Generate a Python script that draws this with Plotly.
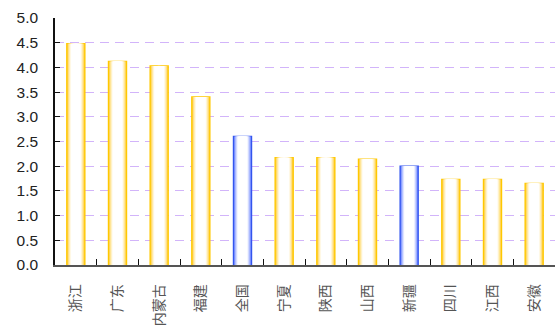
import plotly.graph_objects as go

categories = ["浙江", "广东", "内蒙古", "福建", "全国", "宁夏", "陕西", "山西", "新疆", "四川", "江西", "安徽"]
values = [4.48, 4.12, 4.03, 3.40, 2.60, 2.17, 2.17, 2.14, 2.00, 1.73, 1.73, 1.65]
kinds = ["p", "p", "p", "p", "n", "p", "p", "p", "n", "p", "p", "p"]
y_ticks = [0.0, 0.5, 1.0, 1.5, 2.0, 2.5, 3.0, 3.5, 4.0, 4.5, 5.0]

GOLD = (255, 192, 0)
BLUE = (51, 85, 255)
WHITE = (255, 255, 255)

def mix(c, t):
    return "rgb(%d,%d,%d)" % tuple(round(a + (b - a) * t) for a, b in zip(c, WHITE))

fig = go.Figure()
W = 0.43
N = 16
for i in range(N):
    frac = i / N
    w = W * (1 - frac)
    t = min(1.0, frac / 0.45) ** 0.6
    cols = [mix(GOLD if k == "p" else BLUE, t) for k in kinds]
    line_cols = ["#FFC800" if k == "p" else "#3355EE" for k in kinds]
    fig.add_trace(go.Bar(
        x=categories, y=values, width=w,
        marker=dict(color=cols,
                    line=dict(color=line_cols if i == 0 else cols, width=1.5 if i == 0 else 0)),
        hoverinfo="skip", showlegend=False,
    ))

fig.update_layout(
    barmode="overlay",
    width=555, height=327,
    margin=dict(l=55, r=0, t=18, b=62),
    plot_bgcolor="white", paper_bgcolor="white",
    font=dict(family="Liberation Sans, Arial", size=15, color="#222"),
)
fig.update_yaxes(
    range=[0, 5], tickvals=y_ticks, ticktext=["%.1f" % v for v in y_ticks],
    showgrid=True, gridcolor="#D2B4FA", griddash="9px,6px", gridwidth=1.2,
    showline=True, linecolor="#111", linewidth=1.5,
    ticks="inside", ticklen=5, tickcolor="#111",
    ticklabelstandoff=12, zeroline=False,
    tickfont=dict(size=15.5, color="#222"),
)
fig.update_xaxes(
    type="category", tickson="boundaries", ticks="inside", ticklen=6, tickcolor="#111",
    showline=True, linecolor="#555", linewidth=1.5,
    tickangle=-90, tickfont=dict(family="Noto Sans CJK SC", size=14, color="#555"),
    ticklabelstandoff=12, showgrid=False,
)
fig.write_html("out.html")
